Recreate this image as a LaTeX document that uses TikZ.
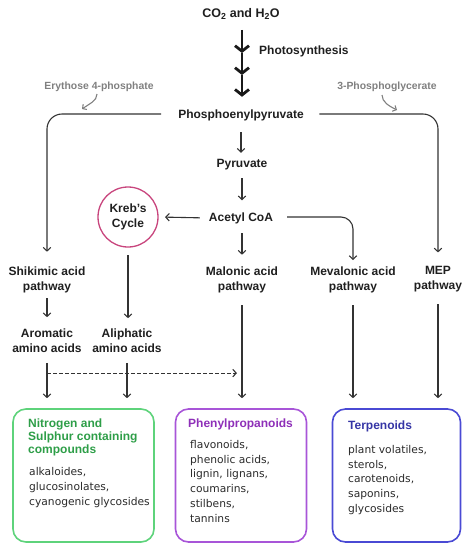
\documentclass[tikz,border=0pt]{standalone}
\usepackage{fontspec}
\setmainfont{Liberation Sans}
\newfontfamily\bodyfont{DejaVu Sans}
\usetikzlibrary{arrows.meta}
\definecolor{linec}{HTML}{333333}
\definecolor{grayc}{HTML}{808080}
\definecolor{pinkc}{HTML}{C8457D}
\definecolor{greenbox}{HTML}{5ED37B}
\definecolor{greentitle}{HTML}{2E9E48}
\definecolor{purplebox}{HTML}{A855D8}
\definecolor{purpletitle}{HTML}{8E2FB8}
\definecolor{bluebox}{HTML}{4A4AD4}
\definecolor{bluetitle}{HTML}{3535A5}
\definecolor{bodyc}{HTML}{2A2A2A}
\begin{document}
\begin{tikzpicture}[x=1pt,y=-1pt,
  lbl/.style={font=\bfseries\fontsize{12}{15}\selectfont, text=black!88, align=center, inner sep=0pt},
  sl/.style={lbl, text height=8.6pt, text depth=2.5pt},
  glbl/.style={font=\bfseries\fontsize{10.4}{12}\selectfont, text=grayc, inner sep=0pt},
  arr/.style={draw=linec, line width=1.1pt, -{Straight Barb[length=3.5pt,width=7.5pt]}},
  garr/.style={draw=grayc, line width=1.1pt, -{Straight Barb[length=3pt,width=6.5pt]}},
  bigarr/.style={draw=black!90, line width=2.8pt, -{Straight Barb[length=5.5pt,width=14pt]}},
  box/.style={draw, line width=1.6pt, rounded corners=13pt, inner sep=0pt},
  boxtitle/.style={font=\bfseries\fontsize{12}{13}\selectfont, align=left, inner sep=0pt, anchor=north west},
  boxbody/.style={font=\bodyfont\fontsize{10.7}{14.8}\selectfont, text=bodyc, align=left, inner sep=0pt, anchor=north west}
]
\useasboundingbox (0,0) rectangle (468,550);

% main labels
\node[sl, font=\bfseries\fontsize{12.5}{15}\selectfont] (co2) at (241,14) {CO\textsubscript{2} and H\textsubscript{2}O};
\node[sl, anchor=west] (photo) at (259,51) {Photosynthesis};
\node[sl] (pep) at (241,115.5) {Phosphoenylpyruvate};
\node[sl] (pyr) at (242,164) {Pyruvate};
\node[sl] (acoa) at (241,218) {Acetyl CoA};
\node[lbl, draw=pinkc, line width=1.3pt, circle, minimum size=60pt] (kreb) at (128,217) {Kreb's\\Cycle};
\node[lbl] (shik) at (47,280) {Shikimic acid\\pathway};
\node[lbl] (malo) at (242,280) {Malonic acid\\pathway};
\node[lbl] (meva) at (353,280) {Mevalonic acid\\pathway};
\node[lbl] (mep) at (438,279) {MEP\\pathway};
\node[lbl] (arom) at (47,341) {Aromatic\\amino acids};
\node[lbl] (alip) at (127,341) {Aliphatic\\amino acids};

\node[glbl] (ery) at (99,87) {Erythose 4-phosphate};
\node[glbl] (pga) at (387,87) {3-Phosphoglycerate};

% boxes
\node[box, draw=greenbox, minimum width=141pt, minimum height=133pt] (gbox) at (83.5,475.5) {};
\node[box, draw=purplebox, minimum width=131pt, minimum height=133pt] (pbox) at (241,475.5) {};
\node[box, draw=bluebox, minimum width=128pt, minimum height=133pt] (tbox) at (396.5,475.5) {};

\node[boxtitle, text=greentitle] (gtitle) at (28,419) {Nitrogen and\\Sulphur containing\\compounds};
\node[boxbody] (gbody) at (29,467.5) {alkaloides,\\glucosinolates,\\cyanogenic glycosides};
\node[boxtitle, text=purpletitle] (ptitle) at (188,419) {Phenylpropanoids};
\node[boxbody] (pbody) at (190,440) {flavonoids,\\phenolic acids,\\lignin, lignans,\\coumarins,\\stilbens,\\tannins};
\node[boxtitle, text=bluetitle] (ttitle) at (348,421) {Terpenoids};
\node[boxbody] (tbody) at (348,445) {plant volatiles,\\sterols,\\carotenoids,\\saponins,\\glycosides};

% photosynthesis triple arrow
\coordinate (ps1) at (242,53);
\coordinate (ps2) at (242,75);
\draw[bigarr, shorten <=10pt] (co2.south -| ps1) -- (ps1);
\draw[bigarr] (ps1) -- (ps2);
\draw[bigarr, shorten >=13pt] (ps2) -- (ps2 |- pep.north);

% gray side arrows
\coordinate (e0) at (97,94);
\coordinate (e1) at (82,109);
\draw[garr] (e0) .. controls (97,101) and (89,104) .. (e1);
\coordinate (g0) at (382,95);
\coordinate (g1) at (397,110);
\draw[garr] (g0) .. controls (382,102) and (389,106) .. (g1);

% side branches
\draw[arr, rounded corners=15pt, shorten >=15pt] ([xshift=-17pt,yshift=1.5pt]pep.west) -| (shik.north);
\draw[arr, rounded corners=15pt, shorten >=13.5pt] ([xshift=15.5pt,yshift=1.5pt]pep.east) -| (mep.north);

% central chain
\draw[arr, shorten <=11pt, shorten >=5.5pt] (pep) -- (pep |- pyr.north);
\draw[arr, shorten <=8.5pt, shorten >=12pt] (pyr) -- (pyr |- acoa.north);
\draw[arr, shorten <=9.5pt, shorten >=12pt] (acoa.south -| malo) -- (malo.north);
\draw[arr, shorten <=9pt, shorten >=6.4pt] (acoa.west) -- (kreb.east);
\draw[arr, rounded corners=12pt, shorten >=6.7pt] ([xshift=14pt,yshift=1pt]acoa.east) -| (meva.north);
\draw[arr, shorten <=7.4pt, shorten >=10.7pt] (kreb.south) -- (kreb.south |- alip.north);
\draw[arr, shorten <=5pt, shorten >=11.7pt] (shik.south) -- (arom.north);

% to boxes
\draw[arr, shorten <=9.7pt, shorten >=10pt] (arom.south) -- (arom.south |- gbox.north);
\draw[arr, shorten <=9.7pt, shorten >=10pt] (alip.south) -- (alip.south |- gbox.north);
\coordinate (dstart) at ([yshift=-20pt]arom.south);
\draw[arr, dashed, dash pattern=on 3.5pt off 2.5pt, shorten >=5pt] (dstart) -- (dstart -| malo);
\draw[arr, shorten <=12pt, shorten >=10pt] (malo.south) -- (malo.south |- pbox.north);
\draw[arr, shorten <=12pt, shorten >=10pt] (meva.south) -- (meva.south |- tbox.north);
\draw[arr, shorten <=12pt, shorten >=10pt] (mep.south) -- (mep.south |- tbox.north);
\end{tikzpicture}
\end{document}
